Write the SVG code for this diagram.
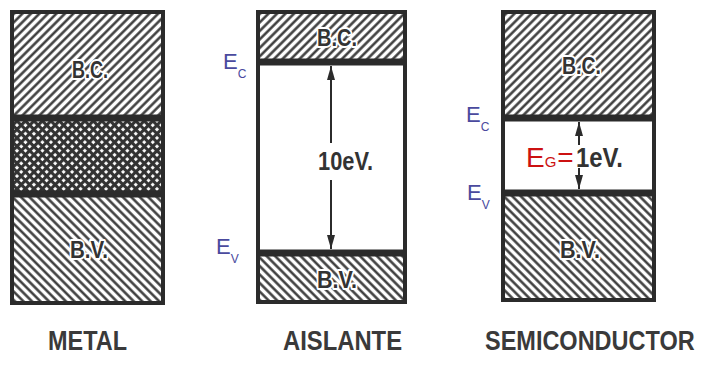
<svg xmlns="http://www.w3.org/2000/svg" width="702" height="365" viewBox="0 0 702 365">
<style>
.box{fill:none;stroke:#2b2b2b;stroke-width:4}
.band{stroke:#2b2b2b;stroke-width:7}
.lbl{font-family:"Liberation Sans",Arial,sans-serif;font-weight:bold;fill:#333;stroke:#fff;stroke-width:4;paint-order:stroke;stroke-linejoin:round}
.cap{font-family:"Liberation Sans",Arial,sans-serif;font-weight:bold;fill:#3a3a3a;font-size:27px}
.en{font-family:"Liberation Sans",Arial,sans-serif;fill:#4a4a9e}
.arr{stroke:#2b2b2b;stroke-width:2}
</style>
<defs>
<pattern id="hf" width="6" height="6" patternUnits="userSpaceOnUse" patternTransform="rotate(45)">
<rect width="6" height="6" fill="#fff"/><line x1="1.5" y1="0" x2="1.5" y2="6" stroke="#333" stroke-width="2.4"/>
</pattern>
<pattern id="hb" width="6" height="6" patternUnits="userSpaceOnUse" patternTransform="rotate(-45)">
<rect width="6" height="6" fill="#fff"/><line x1="1.5" y1="0" x2="1.5" y2="6" stroke="#333" stroke-width="2.4"/>
</pattern>
<pattern id="hx" width="6" height="6" patternUnits="userSpaceOnUse" patternTransform="rotate(45)">
<rect width="6" height="6" fill="#fff"/><line x1="1.5" y1="0" x2="1.5" y2="6" stroke="#333" stroke-width="3.2"/><line x1="0" y1="1.5" x2="6" y2="1.5" stroke="#333" stroke-width="3.2"/>
</pattern>
<marker id="a" viewBox="0 0 14 8" refX="14" refY="4" markerWidth="14" markerHeight="8" orient="auto" markerUnits="userSpaceOnUse">
<path d="M0,0 L14,4 L0,8 Z" fill="#2b2b2b"/>
</marker>
</defs>
<rect width="702" height="365" fill="#fff"/>

<g id="metal">
<rect x="12" y="12" width="151" height="106" fill="url(#hf)"/>
<rect x="12" y="118" width="151" height="76" fill="url(#hx)"/>
<rect x="12" y="194" width="151" height="109" fill="url(#hb)"/>
<line class="band" x1="12" y1="118" x2="163" y2="118"/>
<line class="band" x1="12" y1="194" x2="163" y2="194"/>
<rect class="box" x="12" y="12" width="151" height="291"/>
<text class="lbl" x="72" y="78" font-size="23" textLength="36" lengthAdjust="spacingAndGlyphs">B.C.</text>
<text class="lbl" x="70" y="258" font-size="24" textLength="38" lengthAdjust="spacingAndGlyphs">B.V.</text>
<text class="cap" x="48" y="350" textLength="79" lengthAdjust="spacingAndGlyphs">METAL</text>
</g>

<g id="aislante">
<rect x="258" y="12" width="147" height="50" fill="url(#hf)"/>
<rect x="258" y="253" width="147" height="49" fill="url(#hb)"/>
<line class="band" x1="258" y1="62" x2="405" y2="62"/>
<line class="band" x1="258" y1="253" x2="405" y2="253"/>
<rect class="box" x="258" y="12" width="147" height="290"/>
<text class="lbl" x="317" y="46" font-size="24" textLength="40" lengthAdjust="spacingAndGlyphs">B.C.</text>
<text class="lbl" x="317" y="288" font-size="24" textLength="40" lengthAdjust="spacingAndGlyphs">B.V.</text>
<text class="cap" x="283" y="350" textLength="119" lengthAdjust="spacingAndGlyphs">AISLANTE</text>
<text class="en" x="223" y="69" font-size="22">E<tspan font-size="12" dy="9">C</tspan></text>
<text class="en" x="216" y="254" font-size="22">E<tspan font-size="12" dy="9">V</tspan></text>
</g>

<g id="semiconductor">
<rect x="503" y="12" width="151" height="106" fill="url(#hf)"/>
<rect x="503" y="193" width="151" height="107" fill="url(#hb)"/>
<line class="band" x1="503" y1="118" x2="654" y2="118"/>
<line class="band" x1="503" y1="193" x2="654" y2="193"/>
<rect class="box" x="503" y="12" width="151" height="288"/>
<text class="lbl" x="562" y="74" font-size="24" textLength="39" lengthAdjust="spacingAndGlyphs">B.C.</text>
<text class="lbl" x="560" y="258" font-size="24" textLength="40" lengthAdjust="spacingAndGlyphs">B.V.</text>
<text class="cap" transform="translate(485,350) scale(0.87,1)">SEMICONDUCTOR</text>
<text class="en" x="466" y="122" font-size="22">E<tspan font-size="12" dy="9">C</tspan></text>
<text class="en" x="467" y="200" font-size="22">E<tspan font-size="12" dy="9">V</tspan></text>
</g>

<g id="connectors">
<line class="arr" x1="331" y1="143" x2="331" y2="66" marker-end="url(#a)"/>
<line class="arr" x1="331" y1="180" x2="331" y2="249" marker-end="url(#a)"/>
<line class="arr" x1="579" y1="145" x2="579" y2="122" marker-end="url(#a)"/>
<line class="arr" x1="579" y1="168" x2="579" y2="189" marker-end="url(#a)"/>
</g>

<g id="gap-labels">
<text x="318" y="170" font-family="Liberation Sans, Arial, sans-serif" font-weight="bold" font-size="25" fill="#333" textLength="55" lengthAdjust="spacingAndGlyphs">10eV.</text>
<text x="526" y="167" font-family="Liberation Sans, Arial, sans-serif" font-size="28" fill="#cc1111">E<tspan font-size="15">G</tspan><tspan dx="1">=</tspan></text>
<text x="576" y="167" font-family="Liberation Sans, Arial, sans-serif" font-weight="bold" font-size="27" fill="#333" textLength="47" lengthAdjust="spacingAndGlyphs">1eV.</text>
</g>
</svg>
